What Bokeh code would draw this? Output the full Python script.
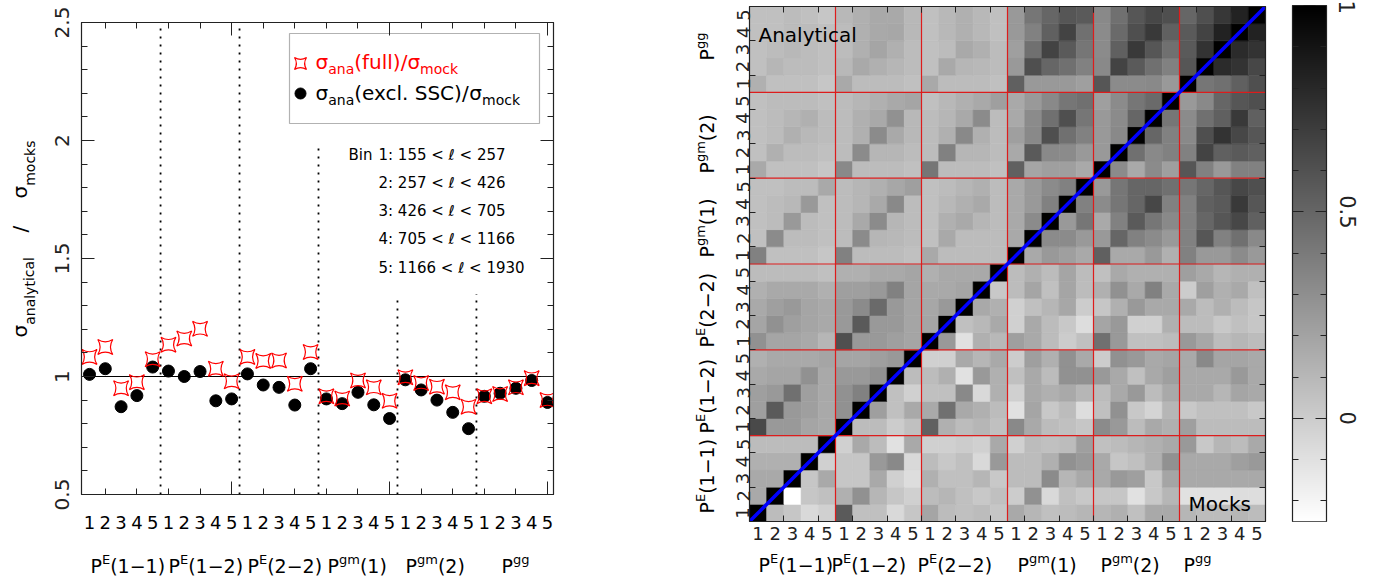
import numpy as np
from bokeh.plotting import figure
from bokeh.layouts import row, column
from bokeh.models import (Span, BoxAnnotation, LinearAxis, Range1d,
                          SingleIntervalTicker, FixedTicker, LinearColorMapper,
                          ColumnDataSource, CustomJSTickFormatter)
from bokeh.core.properties import value
from bokeh.embed import file_html
from bokeh.resources import INLINE

FONT = "DejaVu Sans"
RED = "#ff0000"
GRID_RED = "#dd1c1c"
INK = "#222222"

# ---------------- data ----------------
bins = list(range(1, 31))
bin_numbers = ["1", "2", "3", "4", "5"]
ratio_full = [1.083, 1.125, 0.950, 0.976, 1.073, 1.135, 1.161, 1.202, 1.033, 0.980,
              1.083, 1.066, 1.068, 0.969, 1.104, 0.916, 0.907, 0.983, 0.954, 0.897,
              0.997, 0.972, 0.957, 0.933, 0.872, 0.916, 0.926, 0.954, 0.993, 0.900]
ratio_excl = [1.009, 1.033, 0.872, 0.919, 1.040, 1.023, 1.000, 1.021, 0.897, 0.905,
              1.011, 0.964, 0.954, 0.879, 1.033, 0.905, 0.885, 0.933, 0.880, 0.822,
              0.986, 0.943, 0.900, 0.848, 0.779, 0.916, 0.929, 0.950, 0.983, 0.890]
group_sup = ["E", "E", "E", "gm", "gm", "gg"]
group_tail = ["(1\u22121)", "(1\u22122)", "(2\u22122)", "(1)", "(2)", ""]
bin_ranges = ["1: 155 < \u2113 < 257", "2: 257 < \u2113 < 426", "3: 426 < \u2113 < 705",
              "4: 705 < \u2113 < 1166", "5: 1166 < \u2113 < 1930"]
divider_x = [5.5, 10.5, 15.5, 20.5, 25.5]
divider_top = [2.5, 2.5, 1.99, 1.33, 1.35]

# correlation matrix, row 0 = bottom row (first bin of P^E(1-1)); upper-left = analytical, lower-right = mocks
corr = [
 [1.00, 0.08, 0.03, -0.06, -0.02,  0.56, 0.06, 0.06, -0.06, 0.03,  0.19, 0.08, 0.06, 0.08, 0.03,  0.17, 0.11, 0.06, 0.08, 0.11,  0.11, 0.14, 0.06, 0.17, 0.17,  0.11, 0.08, 0.08, 0.11, 0.08],
 [0.17, 1.00, -0.25, 0.03, 0.06,  0.14, 0.29, 0.11, 0.03, -0.02,  0.08, 0.11, 0.06, 0.02, 0.06,  0.00, 0.29, -0.06, 0.06, 0.02,  0.03, 0.03, -0.10, 0.02, 0.11,  -0.10, -0.10, -0.10, -0.08, -0.08],
 [0.17, 0.17, 1.00, 0.03, 0.17,  0.03, 0.03, 0.17, -0.02, -0.08,  0.14, 0.06, 0.06, 0.11, 0.02,  0.08, 0.08, 0.32, 0.11, 0.17,  0.17, 0.25, 0.22, 0.02, 0.19,  0.17, 0.17, 0.17, 0.17, 0.17],
 [0.14, 0.14, 0.14, 1.00, -0.02,  0.03, 0.03, 0.25, 0.33, -0.06,  0.08, 0.02, 0.06, -0.06, 0.25,  0.08, 0.08, 0.14, 0.29, 0.25,  0.17, 0.03, 0.06, 0.14, 0.29,  0.17, 0.17, 0.17, 0.22, 0.25],
 [0.08, 0.08, 0.08, 0.08, 1.00,  -0.02, 0.17, 0.08, -0.10, 0.17,  -0.02, -0.02, 0.00, -0.02, 0.17,  -0.02, 0.08, 0.06, 0.08, 0.22,  0.06, 0.08, 0.11, 0.14, 0.17,  0.25, 0.02, 0.11, 0.08, 0.17],
 [0.64, 0.25, 0.25, 0.19, 0.17,  1.00, 0.08, 0.08, 0.00, 0.06,  0.53, 0.14, 0.08, 0.11, 0.06,  0.33, 0.17, 0.08, 0.06, 0.03,  0.32, 0.25, 0.08, 0.17, 0.14,  0.22, 0.08, 0.08, 0.08, 0.08],
 [0.22, 0.56, 0.25, 0.22, 0.17,  0.29, 1.00, 0.22, 0.06, 0.17,  0.17, 0.45, 0.17, 0.14, 0.08,  -0.10, 0.19, 0.02, 0.08, -0.08,  0.06, 0.29, 0.02, -0.04, 0.11,  0.02, 0.06, 0.06, 0.06, 0.02],
 [0.22, 0.25, 0.45, 0.22, 0.17,  0.29, 0.37, 1.00, 0.06, -0.02,  0.06, 0.06, 0.33, -0.06, 0.14,  -0.02, 0.17, 0.14, 0.17, 0.11,  0.08, 0.17, 0.25, 0.08, 0.17,  0.17, 0.17, 0.11, 0.19, 0.17],
 [0.17, 0.19, 0.19, 0.29, 0.17,  0.25, 0.25, 0.29, 1.00, 0.08,  0.08, 0.14, -0.10, 0.25, 0.14,  0.06, 0.17, 0.08, 0.29, 0.29,  0.25, 0.17, 0.06, 0.17, 0.22,  0.17, 0.17, 0.17, 0.25, 0.17],
 [0.14, 0.17, 0.17, 0.17, 0.19,  0.19, 0.19, 0.22, 0.25, 1.00,  -0.02, -0.02, 0.17, 0.11, 0.17,  0.00, 0.22, 0.14, 0.29, 0.17,  0.00, 0.29, 0.25, 0.17, 0.19,  0.17, 0.33, 0.19, 0.19, 0.17],
 [0.29, 0.19, 0.19, 0.17, 0.11,  0.61, 0.25, 0.25, 0.22, 0.19,  1.00, 0.25, -0.10, 0.14, 0.10,  0.22, 0.17, 0.08, 0.00, 0.06,  0.45, 0.25, 0.06, 0.06, 0.08,  0.25, 0.18, 0.08, 0.11, 0.08],
 [0.19, 0.29, 0.22, 0.19, 0.17,  0.25, 0.56, 0.25, 0.25, 0.19,  0.19, 1.00, 0.06, 0.10, 0.17,  -0.02, 0.17, 0.08, 0.02, -0.08,  0.19, 0.25, -0.02, -0.02, 0.14,  0.08, 0.08, 0.02, 0.06, 0.03],
 [0.17, 0.22, 0.25, 0.19, 0.17,  0.25, 0.32, 0.48, 0.25, 0.19,  0.18, 0.25, 1.00, 0.17, 0.14,  -0.02, 0.06, 0.11, 0.18, 0.00,  0.03, 0.14, 0.25, 0.17, 0.17,  0.17, 0.08, 0.14, 0.08, 0.03],
 [0.14, 0.17, 0.17, 0.17, 0.14,  0.22, 0.22, 0.25, 0.37, 0.19,  0.17, 0.17, 0.19, 1.00, 0.02,  0.08, 0.19, 0.06, 0.19, 0.08,  0.14, 0.29, 0.17, 0.37, 0.17,  0.00, 0.22, 0.14, 0.17, 0.06],
 [0.08, 0.08, 0.08, 0.08, 0.06,  0.14, 0.14, 0.17, 0.17, 0.19,  0.14, 0.17, 0.17, 0.17, 1.00,  0.08, 0.14, 0.08, 0.19, 0.08,  0.06, 0.17, 0.14, 0.14, 0.14,  0.22, 0.17, 0.11, 0.14, 0.14],
 [0.37, 0.06, 0.06, 0.06, 0.03,  0.37, 0.08, 0.08, 0.08, 0.06,  0.17, 0.08, 0.08, 0.08, 0.08,  1.00, 0.17, 0.25, 0.22, 0.17,  0.53, 0.17, 0.17, 0.25, 0.14,  0.37, 0.25, 0.25, 0.32, 0.25],
 [0.06, 0.32, 0.08, 0.08, 0.06,  0.08, 0.32, 0.11, 0.10, 0.08,  0.06, 0.17, 0.08, 0.08, 0.08,  0.17, 1.00, 0.32, 0.32, 0.25,  0.25, 0.50, 0.37, 0.32, 0.25,  0.37, 0.58, 0.37, 0.45, 0.33],
 [0.06, 0.08, 0.25, 0.08, 0.06,  0.08, 0.17, 0.32, 0.11, 0.08,  0.06, 0.14, 0.17, 0.11, 0.08,  0.17, 0.32, 1.00, 0.25, 0.42,  0.17, 0.37, 0.56, 0.42, 0.33,  0.37, 0.50, 0.58, 0.65, 0.53],
 [0.06, 0.08, 0.10, 0.25, 0.06,  0.08, 0.11, 0.17, 0.33, 0.08,  0.06, 0.10, 0.14, 0.17, 0.08,  0.17, 0.25, 0.37, 1.00, 0.37,  0.32, 0.42, 0.50, 0.65, 0.37,  0.37, 0.53, 0.56, 0.72, 0.58],
 [0.06, 0.06, 0.08, 0.08, 0.17,  0.08, 0.11, 0.14, 0.18, 0.22,  0.06, 0.08, 0.11, 0.14, 0.08,  0.17, 0.25, 0.32, 0.37, 1.00,  0.25, 0.42, 0.50, 0.50, 0.45,  0.42, 0.50, 0.58, 0.65, 0.61],
 [0.17, 0.06, 0.06, 0.06, 0.03,  0.33, 0.08, 0.08, 0.08, 0.06,  0.42, 0.08, 0.08, 0.08, 0.06,  0.53, 0.19, 0.22, 0.22, 0.17,  1.00, 0.32, 0.17, 0.32, 0.22,  0.58, 0.37, 0.25, 0.37, 0.37],
 [0.06, 0.14, 0.08, 0.08, 0.06,  0.08, 0.32, 0.11, 0.11, 0.08,  0.08, 0.37, 0.11, 0.11, 0.08,  0.17, 0.56, 0.33, 0.32, 0.25,  0.25, 1.00, 0.45, 0.33, 0.37,  0.37, 0.67, 0.53, 0.56, 0.53],
 [0.06, 0.08, 0.14, 0.10, 0.08,  0.08, 0.14, 0.32, 0.17, 0.10,  0.08, 0.14, 0.33, 0.14, 0.08,  0.22, 0.33, 0.61, 0.45, 0.37,  0.25, 0.33, 1.00, 0.50, 0.37,  0.33, 0.61, 0.75, 0.65, 0.58],
 [0.06, 0.08, 0.11, 0.14, 0.08,  0.08, 0.14, 0.17, 0.29, 0.10,  0.08, 0.11, 0.17, 0.32, 0.08,  0.17, 0.32, 0.45, 0.61, 0.42,  0.25, 0.32, 0.50, 1.00, 0.42,  0.32, 0.45, 0.53, 0.72, 0.53],
 [0.06, 0.08, 0.08, 0.08, 0.06,  0.08, 0.11, 0.14, 0.17, 0.19,  0.06, 0.10, 0.14, 0.17, 0.22,  0.17, 0.25, 0.33, 0.42, 0.45,  0.22, 0.32, 0.42, 0.48, 1.00,  0.25, 0.33, 0.50, 0.58, 0.61],
 [0.14, 0.06, 0.06, 0.06, 0.03,  0.17, 0.08, 0.08, 0.08, 0.06,  0.17, 0.08, 0.08, 0.08, 0.06,  0.53, 0.25, 0.25, 0.25, 0.22,  0.58, 0.32, 0.32, 0.33, 0.25,  1.00, 0.42, 0.45, 0.53, 0.61],
 [0.06, 0.11, 0.08, 0.08, 0.06,  0.10, 0.17, 0.14, 0.11, 0.08,  0.06, 0.17, 0.11, 0.10, 0.08,  0.25, 0.61, 0.50, 0.45, 0.37,  0.33, 0.67, 0.56, 0.45, 0.37,  0.58, 1.00, 0.79, 0.75, 0.65],
 [0.06, 0.08, 0.10, 0.08, 0.06,  0.08, 0.14, 0.19, 0.14, 0.08,  0.06, 0.08, 0.17, 0.14, 0.08,  0.22, 0.45, 0.67, 0.56, 0.42,  0.32, 0.53, 0.72, 0.58, 0.45,  0.56, 0.75, 1.00, 0.79, 0.75],
 [0.06, 0.06, 0.08, 0.08, 0.06,  0.08, 0.14, 0.17, 0.18, 0.10,  0.06, 0.10, 0.14, 0.10, 0.06,  0.25, 0.37, 0.53, 0.67, 0.45,  0.32, 0.48, 0.61, 0.72, 0.53,  0.56, 0.67, 0.83, 1.00, 0.83],
 [0.06, 0.06, 0.08, 0.06, 0.03,  0.10, 0.14, 0.17, 0.17, 0.10,  0.06, 0.10, 0.14, 0.10, 0.06,  0.25, 0.42, 0.50, 0.58, 0.56,  0.33, 0.45, 0.58, 0.65, 0.61,  0.50, 0.61, 0.73, 0.83, 1.00],
]
corr_low, corr_high = -0.25, 1.0

# ---------------- helpers ----------------
EM = {' ': 0.318, '(': 0.390, ')': 0.390, '/': 0.337, '.': 0.318, ':': 0.337,
      '<': 0.838, '\u2212': 0.838, '\u03c3': 0.634, '\u2113': 0.42,
      'a': 0.613, 'c': 0.550, 'e': 0.615, 'f': 0.352, 'g': 0.635, 'i': 0.278,
      'k': 0.579, 'l': 0.278, 'm': 0.974, 'n': 0.634, 'o': 0.612, 's': 0.521,
      't': 0.392, 'u': 0.634, 'x': 0.592, 'y': 0.592,
      'A': 0.684, 'B': 0.686, 'C': 0.698, 'E': 0.632, 'M': 0.863, 'P': 0.603, 'S': 0.635}


def text_width(s, size):
    return sum(EM.get(ch, 0.636) for ch in s) * size


class TextLayer:
    """Collects texts for one figure; fx/fy convert page pixels to the figure's data units."""

    def __init__(self, fx, fy):
        self.fx, self.fy = fx, fy
        self.rows = []

    def add(self, x, y, text, size, color="black", align="left", angle=0.0):
        self.rows.append((x, y, text, f"{size}px", color, align, angle))

    def add_px(self, px, py, text, size, color="black", align="left", angle=0.0):
        self.add(self.fx(px), self.fy(py), text, size, color, align, angle)

    def rich(self, px, py, parts, size, small, color="black", vertical=False, sub=7, sup=6):
        adv = 0.0
        for txt, kind in parts:
            if not txt:
                continue
            fs = size if kind == "n" else small
            shift = {"n": 0, "sup": -sup, "sub": sub}[kind]
            if vertical:
                self.add_px(px + shift, py - adv, txt, fs, color, angle=np.pi / 2)
            else:
                self.add_px(px + adv, py + shift, txt, fs, color)
            adv += text_width(txt, fs)

    def draw(self, fig):
        for align in ("left", "center"):
            rows = [r for r in self.rows if r[5] == align]
            if not rows:
                continue
            src = ColumnDataSource(dict(x=[r[0] for r in rows], y=[r[1] for r in rows],
                                        txt=[r[2] for r in rows], fsize=[r[3] for r in rows],
                                        tcolor=[r[4] for r in rows], ang=[r[6] for r in rows]))
            fig.text(x="x", y="y", text="txt", source=src, text_font=value(FONT),
                     text_font_size="fsize", text_color="tcolor", angle="ang",
                     text_align=align, text_baseline="middle")


def style_axis(ax, ticker, major=13, minor=6, show_labels=False):
    ax.ticker = ticker
    ax.axis_line_color = INK
    ax.axis_line_width = 1.2
    ax.major_tick_line_color = INK
    ax.minor_tick_line_color = INK
    ax.major_tick_in = major
    ax.major_tick_out = 0
    ax.minor_tick_in = minor
    ax.minor_tick_out = 0
    ax.axis_label = None
    if not show_labels:
        ax.major_label_text_color = None
        ax.major_label_standoff = 0


def text_fig(width, height, x_range, y_range, **borders):
    f = figure(width=width, height=height, x_range=x_range, y_range=y_range,
               output_backend="svg", toolbar_location=None, title=None,
               x_axis_location=None, y_axis_location=None, **borders)
    f.grid.visible = False
    f.outline_line_color = None
    return f


fmt = CustomJSTickFormatter(code="return String(Math.round(tick*100)/100);")

# ================= left panel =================
X1 = Range1d(0.4935, 30.38)
Y1 = Range1d(0.5, 2.5)


def lx(px):
    return 0.4935 + (px - 81) / 15.793


def ly(py):
    return 2.5 - (py - 22) / 236.0


p1 = figure(width=598, height=510, x_range=X1, y_range=Y1,
            output_backend="svg", toolbar_location=None, title=None,
            min_border_left=39, min_border_right=87, min_border_top=22, min_border_bottom=16)
p1.grid.visible = False
p1.outline_line_color = INK

p1.add_layout(LinearAxis(), "above")
p1.add_layout(LinearAxis(), "right")
for ax in p1.xaxis:
    style_axis(ax, SingleIntervalTicker(interval=10, num_minor_ticks=5))
for ax in p1.yaxis:
    style_axis(ax, SingleIntervalTicker(interval=0.5, num_minor_ticks=5), show_labels=(ax in p1.left))
yl = p1.left[0]
yl.major_label_orientation = "vertical"
yl.major_label_text_font = FONT
yl.major_label_text_font_size = "20px"
yl.major_label_text_color = INK
yl.major_label_standoff = 13
yl.formatter = fmt

p1.add_layout(Span(location=1.0, dimension="width", line_color="black", line_width=1.2, level="underlay"))
p1.segment(x0=divider_x, y0=[Y1.start] * len(divider_x), x1=divider_x, y1=divider_top,
           line_color="black", line_width=1.8, line_dash="2 6")

p1.scatter(bins, ratio_excl, marker="circle", size=12, fill_color="black", line_color="black")
p1.scatter(bins, ratio_full, marker="square_pin", size=15, fill_color=None, line_color=RED, line_width=1.2)

# legend box with its two keys
p1.add_layout(BoxAnnotation(left=lx(289), right=lx(539), bottom=ly(123), top=ly(33),
                            fill_color="white", fill_alpha=1.0, line_color="black",
                            line_width=1.2, level="underlay"))
p1.scatter([lx(300)], [ly(63)], marker="square_pin", size=12, fill_color=None, line_color=RED, line_width=1.2)
p1.scatter([lx(300)], [ly(93)], marker="circle", size=11, fill_color="black", line_color="black")

t1 = TextLayer(lx, ly)
t1.rich(315, 61, [("\u03c3", "n"), ("ana", "sub"), ("(full)/", "n"), ("\u03c3", "n"), ("mock", "sub")],
        20, 14, color=RED)
t1.rich(315, 92, [("\u03c3", "n"), ("ana", "sub"), ("(excl. SSC)/", "n"), ("\u03c3", "n"), ("mock", "sub")],
        20, 14, color="black")
t1.add_px(348, 154, "Bin", 15)
for i, s in enumerate(bin_ranges):
    t1.add_px(378, 154 + 28.25 * i, s, 15)
t1.draw(p1)

# y-axis title strip
ytit = text_fig(42, 510, Range1d(0, 42), Y1, min_border_left=0, min_border_right=0,
                min_border_top=22, min_border_bottom=16)
ty = TextLayer(lambda px: px, ly)
ty.rich(19, 337, [("\u03c3", "n"), ("analytical", "sub")], 20, 14, vertical=True, sub=10)
ty.rich(19, 232, [("/", "n")], 20, 14, vertical=True)
ty.rich(19, 198, [("\u03c3", "n"), ("mocks", "sub")], 20, 14, vertical=True, sub=10)
ty.draw(ytit)

# x labels strip (page y used as data y)
xlab1 = text_fig(640, 68, X1, Range1d(578, 510), min_border_left=81, min_border_right=87,
                 min_border_top=0, min_border_bottom=0)
tx1 = TextLayer(lx, lambda py: py)
for k in bins:
    tx1.add(k, 522, bin_numbers[(k - 1) % 5], 18, align="center")
left_group_px = [90, 168, 247, 327, 405, 501]
for g in range(6):
    tx1.rich(left_group_px[g], 565, [("P", "n"), (group_sup[g], "sup"), (group_tail[g], "n")], 19, 13)
tx1.draw(xlab1)

# ================= correlation matrix =================
n = len(corr)
X2 = Range1d(0, n)
Y2 = Range1d(0, n)


def mx(px):
    return (px - 749) / 17.2


def my(py):
    return (521 - py) / 17.1667


xs, ys, vs = [], [], []
for r in range(n):
    for c in range(len(corr[r])):
        xs.append(c + 0.5)
        ys.append(r + 0.5)
        vs.append(corr[r][c])
src = ColumnDataSource(dict(x=xs, y=ys, v=vs))
palette = ["#%02x%02x%02x" % (g, g, g) for g in range(255, -1, -1)]
mapper = LinearColorMapper(palette=palette, low=corr_low, high=corr_high)

p2 = figure(width=557, height=551, x_range=X2, y_range=Y2,
            output_backend="svg", toolbar_location=None, title=None,
            min_border_left=26, min_border_right=15, min_border_top=6, min_border_bottom=30)
p2.grid.visible = False
p2.outline_line_color = INK
p2.rect("x", "y", 1, 1, source=src, fill_color={"field": "v", "transform": mapper},
        line_color={"field": "v", "transform": mapper}, line_width=0.6)

bounds = list(range(5, n, 5))
p2.segment(x0=bounds, y0=[0] * len(bounds), x1=bounds, y1=[n] * len(bounds), line_color=GRID_RED, line_width=1.2)
p2.segment(x0=[0] * len(bounds), y0=bounds, x1=[n] * len(bounds), y1=bounds, line_color=GRID_RED, line_width=1.2)
p2.line([0, n], [0, n], line_color="#0000ff", line_width=3.5)

p2.add_layout(LinearAxis(), "above")
p2.add_layout(LinearAxis(), "right")
for ax in list(p2.above) + list(p2.right):
    style_axis(ax, SingleIntervalTicker(interval=10, num_minor_ticks=5), major=6, minor=6)

# bin numbers as labels of the bottom / left axes, minor ticks every two bins
num_fmt = CustomJSTickFormatter(code="return String(Math.round(tick - 0.5) % 5 + 1);")
for ax, vertical in ((p2.below[0], False), (p2.left[0], True)):
    style_axis(ax, FixedTicker(ticks=[c + 0.5 for c in range(n)], minor_ticks=list(range(2, n, 2))),
               major=0, minor=6, show_labels=True)
    ax.major_tick_line_color = None
    ax.formatter = num_fmt
    ax.major_label_text_font = FONT
    ax.major_label_text_font_size = "18px"
    ax.major_label_text_color = INK
    if vertical:
        ax.major_label_orientation = "vertical"
        ax.major_label_standoff = 0
    else:
        ax.major_label_standoff = 5

t2 = TextLayer(mx, my)
t2.add_px(758, 34, "Analytical", 20)
t2.add_px(1188, 503, "Mocks", 20)
t2.draw(p2)

# left group-label strip
leftlab = text_fig(83, 551, Range1d(640, 723), Y2, min_border_left=0, min_border_right=0,
                   min_border_top=6, min_border_bottom=30)
tl = TextLayer(lambda px: px, my)
left_group_py = [513, 433, 347, 257, 173, 60]
for g in range(6):
    tl.rich(706, left_group_py[g], [("P", "n"), (group_sup[g], "sup"), (group_tail[g], "n")], 19, 13,
            vertical=True)
tl.draw(leftlab)

# bottom group-label strip
xlab2 = text_fig(640, 27, X2, Range1d(578, 551), min_border_left=109, min_border_right=15,
                 min_border_top=0, min_border_bottom=0)
tb = TextLayer(mx, lambda py: py)
bottom_group_px = [758, 831, 917, 1017, 1100, 1183]
for g in range(6):
    tb.rich(bottom_group_px[g], 564, [("P", "n"), (group_sup[g], "sup"), (group_tail[g], "n")], 19, 13)
tb.draw(xlab2)

# ================= colour wedge =================
p3 = figure(width=93, height=578, x_range=Range1d(0, 1), y_range=Range1d(corr_low, corr_high),
            output_backend="svg", toolbar_location=None, title=None, x_axis_location=None,
            min_border_left=12, min_border_right=47, min_border_top=5, min_border_bottom=57)
p3.grid.visible = False
p3.outline_line_color = INK
ramp = np.linspace(corr_low, corr_high, 256).reshape(256, 1)
p3.image(image=[ramp], x=0, y=corr_low, dw=1, dh=corr_high - corr_low, color_mapper=mapper)
p3.add_layout(LinearAxis(), "right")
wedge_ticker = FixedTicker(ticks=[0.0, 0.5, 1.0],
                           minor_ticks=[-0.2, -0.1, 0.1, 0.2, 0.3, 0.4, 0.6, 0.7, 0.8, 0.9])
for ax in p3.yaxis:
    style_axis(ax, wedge_ticker, major=11, minor=6, show_labels=(ax in p3.right))
yr = p3.right[0]
yr.major_label_orientation = "vertical"
yr.major_label_text_font = FONT
yr.major_label_text_font_size = "21px"
yr.major_label_text_color = INK
yr.major_label_standoff = 13
yr.formatter = fmt

layout = row(column(row(ytit, p1), xlab1), column(row(leftlab, p2), xlab2), p3)
open("out.html", "w").write(file_html(layout, INLINE))
